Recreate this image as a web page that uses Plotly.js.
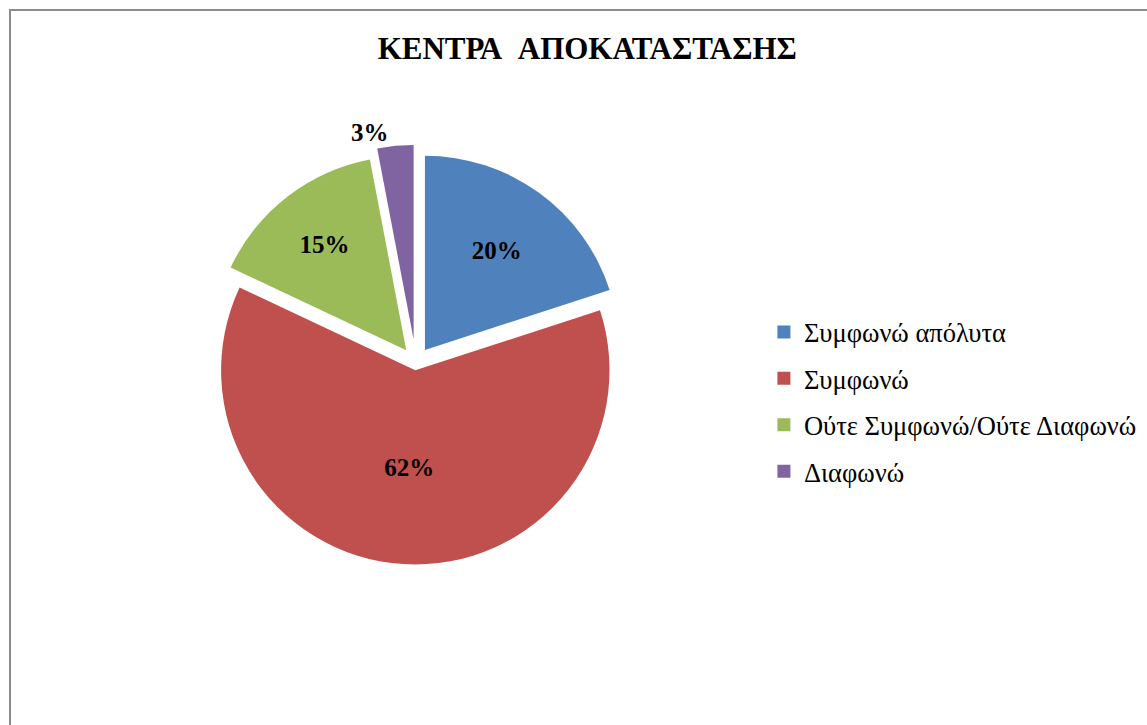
<!DOCTYPE html>
<html>
<head>
<meta charset="utf-8">
<script src="https://cdn.plot.ly/plotly-3.0.1.min.js"></script>
<style>html,body{margin:0;padding:0;background:#fff;}#chart{width:1147px;height:725px;}</style>
</head>
<body>
<div id="chart"></div>
<script>
const categories = ["Συμφωνώ απόλυτα", "Συμφωνώ", "Ούτε Συμφωνώ/Ούτε Διαφωνώ", "Διαφωνώ"];
const values = [20, 62, 15, 3];
const colors = ["#4F81BD", "#C0504D", "#9BBB59", "#8064A2"];
const titleText = "ΚΕΝΤΡΑ&nbsp;&nbsp;ΑΠΟΚΑΤΑΣΤΑΣΗΣ";
const FONT = "Liberation Serif";

const pie = {
  type: "pie",
  labels: categories,
  values: values,
  sort: false,
  direction: "clockwise",
  rotation: 0,
  pull: [0.08, 0.04, 0.08, 0.12],
  marker: {colors: colors, line: {color: "#ffffff", width: 0}},
  textinfo: "percent",
  texttemplate: "%{percent:.0%}",
  textposition: ["inside", "inside", "inside", "outside"],
  insidetextorientation: "horizontal",
  textfont: {family: FONT, size: 25, color: "#000000", weight: "bold"},
  outsidetextfont: {family: FONT, size: 25, color: "#000000", weight: "bold"},
  domain: {x: [0.165, 0.56], y: [0.2, 0.8]},
  showlegend: false,
  hoverinfo: "label+percent"
};

// legend entries (one group per category so the rows can be spaced)
const legendTraces = categories.map((c, i) => ({
  type: "scatter", mode: "markers",
  x: [null], y: [null],
  name: c, legendgroup: "g" + i,
  marker: {symbol: "square", size: 13, color: colors[i]},
  hoverinfo: "skip"
}));

const layout = {
  width: 1147, height: 725,
  margin: {l: 0, r: 0, t: 0, b: 0},
  paper_bgcolor: "#ffffff",
  plot_bgcolor: "rgba(0,0,0,0)",
  xaxis: {visible: false, domain: [0.99, 1]},
  yaxis: {visible: false, domain: [0.99, 1]},
  title: {
    text: titleText,
    x: 0.512, xanchor: "center",
    y: 0.934, yanchor: "middle",
    font: {family: FONT, size: 31, color: "#000000", weight: "bold"}
  },
  showlegend: true,
  legend: {
    x: 0.666, xanchor: "left",
    y: 0.446, yanchor: "middle",
    font: {family: FONT, size: 26.5, color: "#000000"},
    itemwidth: 30,
    tracegroupgap: 9,
    traceorder: "grouped",
    bgcolor: "rgba(0,0,0,0)"
  },
  shapes: [{
    type: "rect", xref: "paper", yref: "paper",
    x0: 10/1147, x1: 1.01, y0: -0.01, y1: 1 - 10/725,
    line: {color: "#8c8c8c", width: 2}, fillcolor: "rgba(0,0,0,0)", layer: "below"
  }]
};

Plotly.newPlot("chart", [pie].concat(legendTraces), layout, {displayModeBar: false, staticPlot: true});
</script>
</body>
</html>
